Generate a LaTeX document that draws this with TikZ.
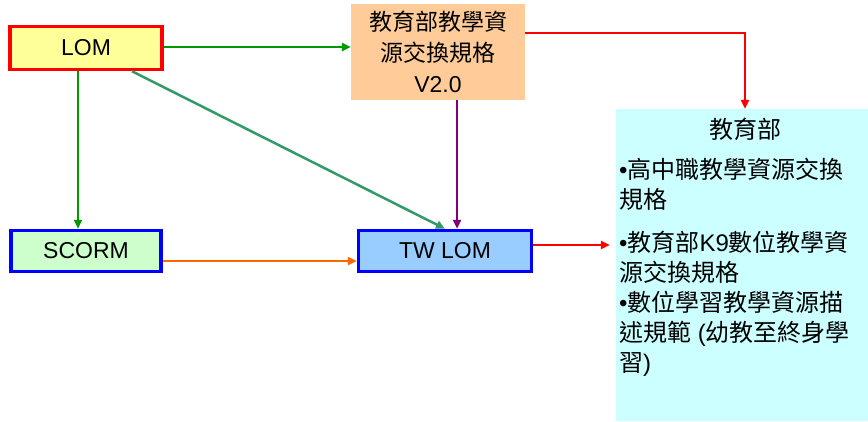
\documentclass[tikz,border=0pt]{standalone}
\usepackage{fontspec}
\setmainfont{Liberation Sans}
\newfontfamily\cjk{Noto Sans CJK TC}
\usetikzlibrary{arrows.meta,positioning}

\definecolor{lomfill}{HTML}{FFFF99}
\definecolor{stdfill}{HTML}{FFCC99}
\definecolor{scormfill}{HTML}{CCFFCC}
\definecolor{twfill}{HTML}{99CCFF}
\definecolor{moefill}{HTML}{CCFFFF}
\definecolor{linegreen}{HTML}{009900}
\definecolor{lineteal}{HTML}{339966}
\definecolor{linepurple}{HTML}{800080}
\definecolor{lineorange}{HTML}{FF6600}

\tikzset{
  box/.style={inner sep=0pt, align=center, font=\fontsize{23}{31}\selectfont},
  redbox/.style={box, draw=red, line width=3.5pt},
  bluebox/.style={box, draw=blue, line width=3.5pt},
  link/.style={line width=2.5pt, -{Triangle[length=9pt,width=8pt]}}
}

\begin{document}
\begin{tikzpicture}[x=1pt,y=-1pt]
\useasboundingbox (0,0) rectangle (868,421);

\node[redbox, fill=lomfill, minimum width=152, minimum height=43] (lom) at (86,48) {LOM};
\node[box, fill=stdfill, minimum width=174, minimum height=96] (std) at (438,52)
  {{\cjk 教育部教學資}\\{\cjk 源交換規格}\\V2.0};
\node[bluebox, fill=scormfill, minimum width=150, minimum height=41] (scorm) at (86,251) {SCORM};
\node[bluebox, fill=twfill, minimum width=173, minimum height=41] (twlom) at (445,251) {TW LOM};
\node[box, fill=moefill, minimum width=252, minimum height=312] (moe) at (742,265) {};

\node[box, font=\fontsize{24}{30}\selectfont] (moehead) at (745,129) {\cjk 教育部};
\node[box, anchor=north west, align=left, font=\fontsize{24}{30}\selectfont] (moelist) at (619,158)
  {•{\cjk 高中職教學資源交換}\\
   {\cjk 規格}\\[13pt]
   •{\cjk 教育部}K9{\cjk 數位教學資}\\
   {\cjk 源交換規格}\\
   •{\cjk 數位學習教學資源描}\\
   {\cjk 述規範} ({\cjk 幼教至終身學}\\
   {\cjk 習})};

% connectors
\draw[link, linegreen] ([yshift=1pt]lom.east) -- ([yshift=1pt]lom.east -| std.west);
\draw[link, linegreen] ([xshift=-8pt]lom.south) -- ([xshift=-8pt]scorm.north);
\draw[link, lineteal] ([xshift=46pt]lom.south) -- (twlom.north);
\draw[link, linepurple] ([xshift=19pt]std.south) -- ([xshift=19pt]std.south |- twlom.north);
\draw[link, lineorange] ([yshift=-10pt]scorm.east) -- ([yshift=-10pt]twlom.west);
\draw[link, red, shorten >=6pt] ([yshift=6pt]twlom.east) -- ([yshift=6pt]twlom.east -| moe.west);
\draw[link, red] ([yshift=19pt]std.east) -| ([xshift=3pt]moe.north);

\end{tikzpicture}
\end{document}
